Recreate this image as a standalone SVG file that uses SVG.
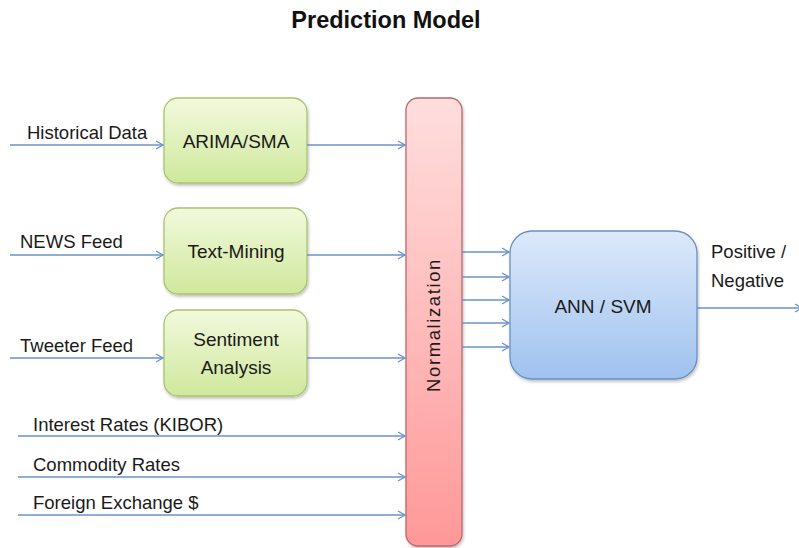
<svg xmlns="http://www.w3.org/2000/svg" width="799" height="548" viewBox="0 0 799 548">
<style>
text{font-family:"Liberation Sans",Arial,sans-serif;fill:#1a1a1a;}
.lbl{font-size:18.5px;}
.box{font-size:19px;text-anchor:middle;}
.title{font-size:23.5px;font-weight:bold;text-anchor:middle;fill:#111;}
.conn line{stroke:#6a92c8;stroke-width:1.4;marker-end:url(#ah);}
</style>
<defs>
<marker id="ah" markerWidth="10" markerHeight="10" refX="8" refY="5" orient="auto" markerUnits="userSpaceOnUse">
<path d="M1,1 L8,5 L1,9" fill="none" stroke="#6a92c8" stroke-width="1.3"/>
</marker>
<linearGradient id="gG" x1="0" y1="0" x2="0" y2="1">
<stop offset="0" stop-color="#f2f9dd"/>
<stop offset="1" stop-color="#cfe89c"/>
</linearGradient>
<linearGradient id="gR" x1="0" y1="0" x2="0" y2="1">
<stop offset="0" stop-color="#ffdede"/>
<stop offset="1" stop-color="#ff9898"/>
</linearGradient>
<linearGradient id="gB" x1="0" y1="0" x2="0" y2="1">
<stop offset="0" stop-color="#dce9fa"/>
<stop offset="1" stop-color="#9fc2ef"/>
</linearGradient>
<filter id="sh" x="-10%" y="-10%" width="120%" height="125%">
<feDropShadow dx="1" dy="2" stdDeviation="1.5" flood-color="#000" flood-opacity="0.25"/>
</filter>
</defs>
<rect width="799" height="548" fill="#fff"/>
<text class="title" x="386" y="28">Prediction Model</text>

<g id="arima"><rect x="164" y="98" width="143" height="85" rx="14" fill="url(#gG)" stroke="#a9c46e" stroke-width="1.3" filter="url(#sh)"/><text class="box" x="236" y="148">ARIMA/SMA</text></g>
<g id="textmining"><rect x="164" y="208" width="143" height="86" rx="14" fill="url(#gG)" stroke="#a9c46e" stroke-width="1.3" filter="url(#sh)"/><text class="box" x="236" y="258">Text-Mining</text></g>
<g id="sentiment"><rect x="164" y="310" width="143" height="86" rx="14" fill="url(#gG)" stroke="#a9c46e" stroke-width="1.3" filter="url(#sh)"/><text class="box" x="236" y="346">Sentiment</text><text class="box" x="236" y="374">Analysis</text></g>
<g id="normalization"><rect x="406" y="98" width="56" height="448" rx="12" fill="url(#gR)" stroke="#b86a6a" stroke-width="1.3" filter="url(#sh)"/><text class="box" transform="translate(440,325) rotate(-90)" x="0" y="0" style="font-size:18.5px;letter-spacing:1.6px">Normalization</text></g>
<g id="annsvm"><rect x="510" y="231" width="187" height="148" rx="22" fill="url(#gB)" stroke="#6b8fc2" stroke-width="1.3" filter="url(#sh)"/><text class="box" x="603" y="313">ANN / SVM</text></g>

<g id="labels">
<text class="lbl" x="27" y="139">Historical Data</text>
<text class="lbl" x="20" y="248">NEWS Feed</text>
<text class="lbl" x="20" y="352">Tweeter Feed</text>
<text class="lbl" x="33" y="431">Interest Rates (KIBOR)</text>
<text class="lbl" x="33" y="471">Commodity Rates</text>
<text class="lbl" x="33" y="509">Foreign Exchange $</text>
<text class="lbl" x="711" y="258">Positive /</text>
<text class="lbl" x="711" y="287">Negative</text>
</g>

<g class="conn" id="connectors">
<line x1="10" y1="145" x2="163" y2="145"/>
<line x1="307" y1="145" x2="405" y2="145"/>
<line x1="10" y1="255" x2="163" y2="255"/>
<line x1="307" y1="255" x2="405" y2="255"/>
<line x1="10" y1="358" x2="163" y2="358"/>
<line x1="307" y1="358" x2="405" y2="358"/>
<line x1="18" y1="436" x2="405" y2="436"/>
<line x1="18" y1="477" x2="405" y2="477"/>
<line x1="18" y1="515" x2="405" y2="515"/>
<line x1="462" y1="252" x2="509" y2="252"/>
<line x1="462" y1="277" x2="509" y2="277"/>
<line x1="462" y1="300" x2="509" y2="300"/>
<line x1="462" y1="323" x2="509" y2="323"/>
<line x1="462" y1="347" x2="509" y2="347"/>
<line x1="697" y1="308" x2="802" y2="308"/>
</g>
</svg>
